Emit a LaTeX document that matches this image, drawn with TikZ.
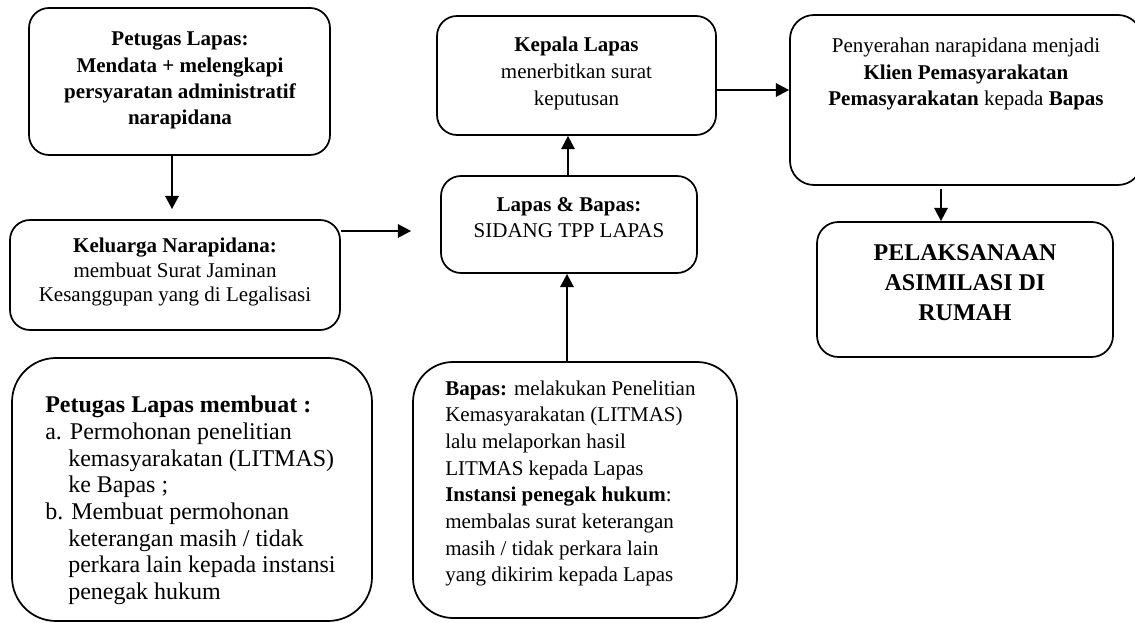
\documentclass[tikz,border=0pt]{standalone}
\usepackage{fontspec}
\setmainfont{Liberation Serif}
\usetikzlibrary{arrows.meta}
\begin{document}
\begin{tikzpicture}[x=0.75pt,y=-0.75pt,
  box/.style={draw, line width=1.3pt, rounded corners=15pt, inner sep=0pt},
  txt/.style={inner sep=0pt, align=center, font=\fontsize{15.75}{20}\selectfont},
  arr/.style={line width=1.8pt, -{Triangle[length=10pt,width=10pt]}}]
\useasboundingbox (0,0) rectangle (1135,623);
\clip (0,0) rectangle (1135,623);
% boxes
\node[box, minimum width=225.75pt, minimum height=110.25pt] (p1) at (179.5,81.5) {};
\node[box, minimum width=247.5pt, minimum height=82.5pt] (kel) at (175,275) {};
\node[box, rounded corners=33pt, minimum width=270pt, minimum height=197.25pt] (pm) at (192,489.5) {};
\node[box, minimum width=209.25pt, minimum height=89.25pt] (kep) at (576.5,75.5) {};
\node[box, minimum width=192pt, minimum height=72.75pt] (lb) at (569,224.5) {};
\node[box, rounded corners=30pt, minimum width=243pt, minimum height=192pt] (bap) at (575,490) {};
\node[box, rounded corners=18pt, minimum width=264pt, minimum height=127.5pt] (pen) at (966,100) {};
\node[box, rounded corners=16pt, minimum width=222pt, minimum height=101.25pt] (pel) at (965,289.5) {};
% texts
\node[txt, font=\fontsize{15.75}{19.7}\selectfont\bfseries] (p1t) at (180,80.5)
  {Petugas Lapas:\\Mendata + melengkapi\\persyaratan administratif\\narapidana};
\node[txt, font=\fontsize{15.75}{18.4}\selectfont] (kelt) at (175,272)
  {\textbf{Keluarga Narapidana:}\\membuat Surat Jaminan\\Kesanggupan yang di Legalisasi};
\node[txt] (kept) at (576.5,73.5)
  {\textbf{Kepala Lapas}\\menerbitkan surat\\keputusan};
\node[txt, font=\fontsize{15.75}{19}\selectfont] (lbt) at (569,217.5)
  {\textbf{Lapas \& Bapas:}\\SIDANG TPP LAPAS};
\node[txt] (pent) at (966,74)
  {Penyerahan narapidana menjadi\\\textbf{Klien Pemasyarakatan}\\\textbf{Pemasyarakatan} kepada \textbf{Bapas}};
\node[txt, font=\fontsize{18}{22.5}\selectfont\bfseries] (pelt) at (965,283)
  {PELAKSANAAN\\ASIMILASI DI\\RUMAH};
\node[txt, align=left, anchor=west, font=\fontsize{18}{20}\selectfont] (pmt) at (45,500.5)
  {\textbf{Petugas Lapas membuat :}\\
   a. Permohonan penelitian\\
   \hspace*{17.25pt}kemasyarakatan (LITMAS)\\
   \hspace*{17.25pt}ke Bapas ;\\
   b. Membuat permohonan\\
   \hspace*{17.25pt}keterangan masih / tidak\\
   \hspace*{17.25pt}perkara lain kepada instansi\\
   \hspace*{17.25pt}penegak hukum};
\node[txt, align=left, anchor=west] (bapt) at (445,483.5)
  {\textbf{Bapas:} melakukan Penelitian\\
   Kemasyarakatan (LITMAS)\\
   lalu melaporkan hasil\\
   LITMAS kepada Lapas\\
   \textbf{Instansi penegak hukum}:\\
   membalas surat keterangan\\
   masih / tidak perkara lain\\
   yang dikirim kepada Lapas};
% connectors
\draw[arr, shorten >=7.5pt] (172,0 |- p1.south) -- (172,0 |- kel.north);
\draw[arr, shorten >=21.75pt] (kel.east |- 0,231) -- (lb.west |- 0,231);
\draw[arr] (568,0 |- lb.north) -- (568,0 |- kep.south);
\draw[arr] (kep.east |- 0,90) -- (pen.west |- 0,90);
\draw[arr, shorten <=2pt] (941,0 |- pen.south) -- (941,0 |- pel.north);
\draw[arr] (567,0 |- bap.north) -- (567,0 |- lb.south);
\end{tikzpicture}
\end{document}
